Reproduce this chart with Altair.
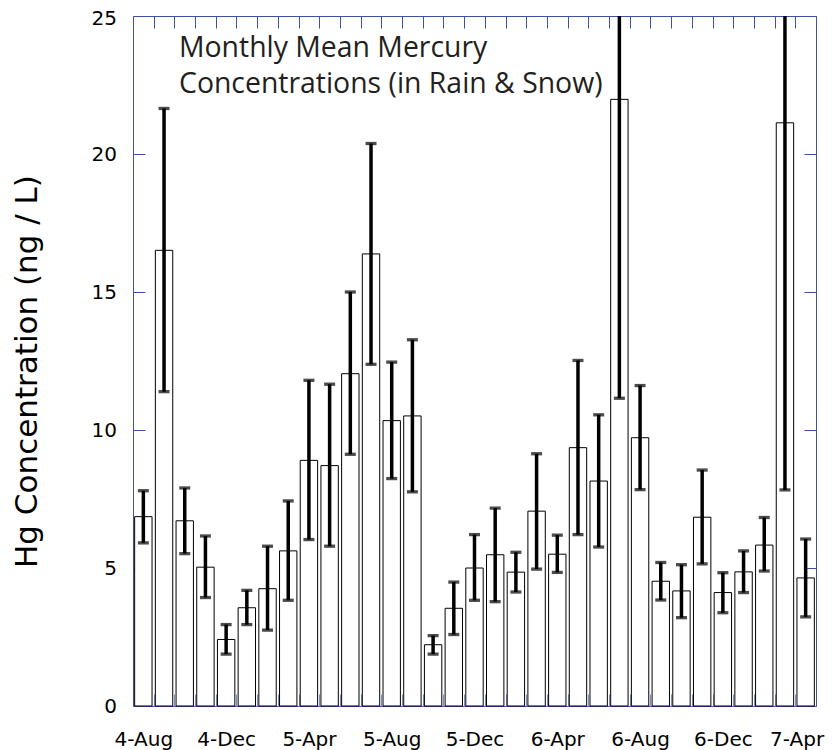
import altair as alt
import pandas as pd

# ---- data ----
tick_labels = ["4-Aug", "4-Dec", "5-Apr", "5-Aug", "5-Dec", "6-Apr", "6-Aug", "6-Dec", "7-Apr"]

means = [6.86, 16.51, 6.71, 5.03, 2.41, 3.56, 4.25, 5.62, 8.90, 8.71, 12.04,
         16.38, 10.34, 10.51, 2.22, 3.54, 5.00, 5.48, 4.85, 7.06, 5.50, 9.36,
         8.15, 21.98, 9.72, 4.52, 4.17, 6.84, 4.11, 4.86, 5.83, 21.13, 4.64]

err_hi = [7.80, 21.65, 7.90, 6.16, 2.95, 4.19, 5.79, 7.43, 11.80, 11.66, 15.00,
          20.38, 12.46, 13.27, 2.55, 4.49, 6.21, 7.17, 5.57, 9.14, 6.19, 12.52,
          10.55, 32.80, 11.61, 5.20, 5.12, 8.55, 4.83, 5.62, 6.83, 34.40, 6.05]

err_lo = [5.91, 11.39, 5.52, 3.93, 1.88, 2.95, 2.75, 3.83, 6.03, 5.79, 9.12,
          12.38, 8.24, 7.76, 1.88, 2.59, 3.83, 3.78, 4.13, 4.96, 4.84, 6.21,
          5.76, 11.15, 7.84, 3.84, 3.20, 5.15, 3.38, 4.11, 4.89, 7.83, 3.23]

months = pd.date_range("2004-08-01", periods=len(means), freq="MS").strftime("%Y-%m").tolist()

n = len(means)
df = pd.DataFrame({"month": months, "idx": range(n), "mean": means,
                   "hi": err_hi, "lo": err_lo})
df["x0"] = df["idx"] + 0.08
df["x1"] = df["idx"] + 0.92
df["xc"] = df["idx"] + 0.5

AX = "#3f51a5"
AX_LIGHT = "#7f8cc8"
FONT = "DejaVu Sans"

xscale = alt.Scale(domain=[0, n], nice=False, zero=False)
yscale = alt.Scale(domain=[0, 25], nice=False, zero=True)

label_expr = "[" + ",".join(f"'{t}'" for t in tick_labels) + "][floor(datum.value / 4)]"
label_vals = [i * 4 + 0.5 for i in range(len(tick_labels))]
edge_vals = list(range(1, n))
y_vals = [0, 5, 10, 15, 20, 25]

base = alt.Chart(df)

bars = base.mark_bar(fill="white", stroke="black", strokeWidth=1).encode(
    x=alt.X("x0:Q", scale=xscale,
            axis=alt.Axis(orient="bottom", values=label_vals, labelExpr=label_expr,
                          ticks=False, tickSize=0, domain=False, grid=False,
                          labelPadding=39, labelBaseline="alphabetic",
                          labelOffset=alt.expr(f"datum.value > {n - 1} ? -9 : 0"),
                          labelFont=FONT, labelFontSize=20, labelColor="black",
                          labelOverlap=False, labelFlush=False, title=None)),
    x2="x1:Q",
    y=alt.Y("mean:Q", scale=yscale,
            axis=alt.Axis(orient="left", values=y_vals, ticks=False, tickSize=0,
                          domain=False, grid=False, labelPadding=16.5,
                          labelOffset=alt.expr("datum.value >= 25 ? 2 : 0"),
                          labelFont=FONT, labelFontSize=20, labelColor="black",
                          labelOverlap=False, labelFlush=False,
                          title="Hg Concentration (ng / L)", titleFont=FONT,
                          titleFontSize=31, titleFontWeight="normal",
                          titleColor="black", titleX=-97, titleY=355,
                          titleBaseline="alphabetic", titleAlign="center")),
    y2=alt.datum(0),
)

rules = base.mark_rule(color="black", strokeWidth=3.5, clip=True).encode(
    x=alt.X("xc:Q", scale=xscale,
            axis=alt.Axis(orient="bottom", values=edge_vals, labels=False, domain=False,
                          grid=False, tickSize=12, offset=-12, tickColor=AX_LIGHT,
                          title=None)),
    y=alt.Y("lo:Q", scale=yscale,
            axis=alt.Axis(orient="left", values=y_vals, labels=False, domain=False,
                          grid=False, tickSize=12, offset=-12, tickColor=AX,
                          title=None)),
    y2="hi:Q",
)

caps_hi = base.mark_tick(orient="horizontal", color="black", size=11, thickness=3.3,
                         clip=True).encode(
    x=alt.X("xc:Q", scale=xscale,
            axis=alt.Axis(orient="top", values=edge_vals, labels=False, domain=False,
                          grid=False, tickSize=12, offset=-12, tickColor=AX,
                          title=None)),
    y=alt.Y("hi:Q", scale=yscale,
            axis=alt.Axis(orient="right", values=y_vals, labels=False, domain=False,
                          grid=False, tickSize=12, offset=-12, tickColor=AX,
                          title=None)),
)

caps_lo = base.mark_tick(orient="horizontal", color="black", size=11, thickness=3.3,
                         clip=True).encode(
    x=alt.X("xc:Q", scale=xscale, axis=None),
    y=alt.Y("lo:Q", scale=yscale, axis=None),
)

chart = alt.layer(bars, rules, caps_hi, caps_lo).resolve_axis(
    x="independent", y="independent"
).properties(
    width=683,
    height=690,
    autosize=alt.AutoSizeParams(type="none"),
    padding={"left": 125, "top": 8, "right": 9, "bottom": 44},
    title=alt.TitleParams(
        text=["Monthly Mean Mercury", "Concentrations (in Rain & Snow)"],
        anchor="start", frame="group", orient="top", offset=-113, dx=46,
        baseline="alphabetic", font="Open Sans", fontSize=28.4,
        fontWeight="normal", color="#231f20", lineHeight=36,
    ),
).configure_view(
    stroke=AX, strokeWidth=1
).configure_axis(
    grid=False
)

chart.save("out.html", embed_options={"renderer": "svg", "actions": False})
